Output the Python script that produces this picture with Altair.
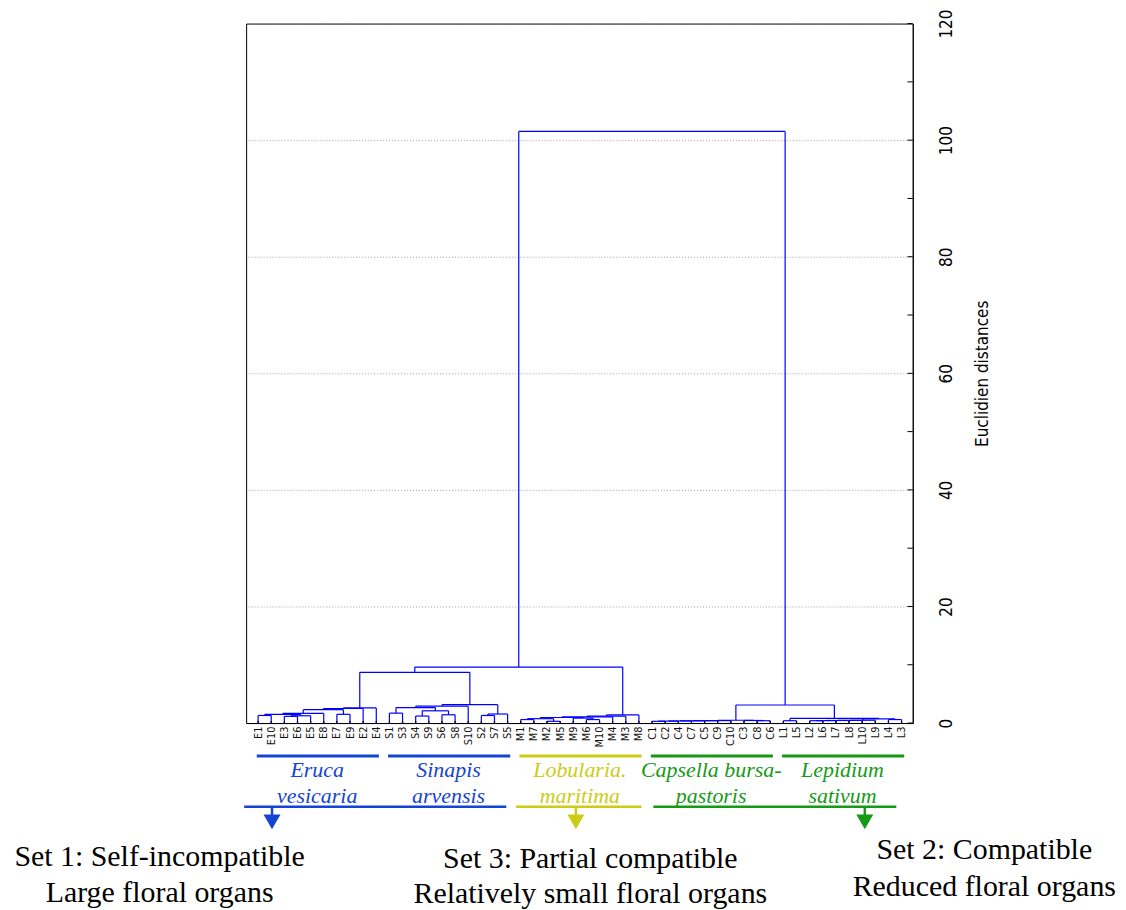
import altair as alt
import pandas as pd

# ---------------- data ----------------
leaves = ["E1", "E10", "E3", "E6", "E5", "E8", "E7", "E9", "E2", "E4",
          "S1", "S3", "S4", "S9", "S6", "S8", "S10", "S2", "S7", "S5",
          "M1", "M7", "M2", "M5", "M9", "M6", "M10", "M4", "M3", "M8",
          "C1", "C2", "C4", "C7", "C5", "C9", "C10", "C3", "C8", "C6",
          "L1", "L5", "L2", "L6", "L7", "L8", "L10", "L9", "L4", "L3"]

merge_id = ["e1", "e2", "e3", "e4", "e5", "e6", "e7", "e8", "e9",
            "s1", "s2", "s3", "s4", "s5", "s6", "s7", "s8", "s9", "es",
            "m1", "m2", "m3", "m4", "m5", "m6", "m7", "m8", "m9", "esm",
            "c1", "c2", "c3", "c4", "c5", "c6", "c7", "c8", "c9",
            "l1", "l2", "l3", "l4", "l5", "l6", "l7", "l8", "l9", "cl", "root"]
merge_left = ["E1", "E3", "e2", "e1", "e4", "E7", "e5", "e7", "e8",
              "S1", "S4", "S6", "s2", "s1", "s5", "S2", "s7", "s6", "e9",
              "M1", "M2", "m1", "M6", "M9", "m3", "m6", "m7", "m8", "es",
              "C1", "c1", "c2", "c3", "c4", "c5", "C8", "C3", "c6",
              "L1", "L2", "l2", "l3", "l4", "l5", "L4", "l6", "l1", "c9", "esm"]
merge_right = ["E10", "E6", "E5", "e3", "E8", "E9", "e6", "E2", "E4",
               "S3", "S9", "S8", "s3", "s4", "S10", "S7", "S5", "s8", "s9",
               "M7", "M5", "m2", "M10", "m4", "m5", "M4", "M3", "M8", "m9",
               "C2", "C4", "C7", "C5", "C9", "C10", "C6", "c7", "c8",
               "L5", "L6", "L7", "L8", "L10", "L9", "L3", "l7", "l8", "l9", "cl"]
merge_height = [1.30, 1.15, 1.25, 1.48, 1.65, 1.50, 2.30, 2.50, 2.60,
                1.70, 1.20, 1.42, 2.10, 2.65, 2.90, 1.30, 1.55, 3.15, 8.70,
                0.60, 0.30, 0.75, 0.60, 0.85, 0.95, 1.05, 1.20, 1.40, 9.60,
                0.30, 0.33, 0.36, 0.38, 0.40, 0.42, 0.40, 0.44, 0.48,
                0.40, 0.40, 0.42, 0.44, 0.46, 0.48, 0.60, 0.70, 0.80, 3.10, 101.5]

species_line1 = ["Eruca", "Sinapis", "Lobularia.", "Capsella bursa-", "Lepidium"]
species_line2 = ["vesicaria", "arvensis", "maritima", "pastoris", "sativum"]
species_prefix = ["E", "S", "M", "C", "L"]
species_color = ["#1444d2", "#1444d2", "#cccc14", "#169a16", "#169a16"]

set_line1 = ["Set 1: Self-incompatible", "Set 3: Partial compatible", "Set 2: Compatible"]
set_line2 = ["Large floral organs", "Relatively small floral organs", "Reduced floral organs"]
set_color = ["#1444d2", "#cccc14", "#169a16"]

axis_ticks = [0, 20, 40, 60, 80, 100, 120]
minor_ticks = list(range(0, 121, 10))

# ---------------- layout (data units) ----------------
X_DOMAIN = [-0.91, 49.85]
Y_DOMAIN = [0, 120]
set_bar_start = [-1.06, 19.65, 30.1]
set_bar_end = [18.9, 29.2, 48.6]
set_arrow_x = [1.06, 24.2, 46.2]
set_text_x = [-7.5, 25.3, 55.3]
set_text_y1 = [-23.0, -23.4, -21.8]
set_text_y2 = [-29.2, -29.4, -28.1]
UPPER_BAR_Y = -5.64
LOWER_BAR_Y = -14.36
SPECIES_Y1 = -9.32
SPECIES_Y2 = -13.68

# ---------------- build dendrogram segments ----------------
pos = {n: float(i) for i, n in enumerate(leaves)}
hgt = {n: 0.0 for n in leaves}
segs = []
for mid, a, b, h in zip(merge_id, merge_left, merge_right, merge_height):
    xa, xb = pos[a], pos[b]
    segs.append(dict(x=xa, x2=xa, y=hgt[a], y2=h))
    segs.append(dict(x=xb, x2=xb, y=hgt[b], y2=h))
    segs.append(dict(x=xa, x2=xb, y=h, y2=h))
    pos[mid] = (xa + xb) / 2.0
    hgt[mid] = h
seg_df = pd.DataFrame(segs)

xs = alt.Scale(domain=X_DOMAIN, nice=False, zero=False)
ys = alt.Scale(domain=Y_DOMAIN, nice=False, zero=False)

NARROW = "Liberation Sans Narrow, Arial Narrow, DejaVu Sans Condensed, sans-serif"
SERIF = "Liberation Serif, Times New Roman, serif"

label_arr = "[" + ",".join("'" + n + "'" for n in leaves) + "]"

X_AXIS = alt.Axis(
    orient="bottom", values=list(range(len(leaves))), title=None,
    labelExpr=label_arr + "[round(datum.value)]",
    labelAngle=270, labelFont=NARROW, labelFontSize=11, labelColor="#111111",
    labelPadding=3, labelOverlap=False, labelFlush=False, labelBound=False,
    ticks=False, grid=False, domainColor="black", domainWidth=1)
Y_AXIS = alt.Axis(
    orient="right", values=axis_ticks, title="Euclidien distances",
    titleAngle=270, titleFont=NARROW, titleFontSize=17, titleFontWeight="normal",
    titleColor="black", titlePadding=37,
    labelAngle=270, labelFont=NARROW, labelFontSize=17, labelColor="black",
    labelPadding=26, ticks=False, domainColor="black",
    grid=True, gridDash=[1, 2], gridColor="#888888", gridWidth=0.8)


def X(field):
    return alt.X(field, scale=xs, axis=X_AXIS)


def Y(field):
    return alt.Y(field, scale=ys, axis=Y_AXIS)


dendro = alt.Chart(seg_df).mark_rule(color="#0000ff", strokeWidth=1.2).encode(
    x=X("x:Q"), x2="x2:Q", y=Y("y:Q"), y2="y2:Q",
)

# inward ticks on the right axis
tick_df = pd.DataFrame({"v": minor_ticks})
rticks = alt.Chart(tick_df).mark_rule(color="black", strokeWidth=1).encode(
    x=X("xa:Q"), x2="xb:Q", y=Y("v:Q"),
).transform_calculate(xa=str(X_DOMAIN[1]), xb=str(X_DOMAIN[1] - 0.4))

# small black leaf ticks at the baseline
leaf_df = pd.DataFrame({"i": list(range(len(leaves)))})
lticks = alt.Chart(leaf_df).mark_rule(color="black", strokeWidth=1.2).encode(
    x=X("i:Q"), y=Y("y0:Q"), y2="y1:Q",
).transform_calculate(y0="0", y1="0.35")

# species bars and labels
sp_rows = []
for l1, l2, pre, col in zip(species_line1, species_line2, species_prefix, species_color):
    idx = [i for i, n in enumerate(leaves) if n.startswith(pre)]
    sp_rows.append(dict(t1=l1, t2=l2, col=col, xs=min(idx) - 0.1, xe=max(idx) + 0.2,
                        xc=(min(idx) + max(idx)) / 2.0))
sp_df = pd.DataFrame(sp_rows)

sp_bar = alt.Chart(sp_df).mark_rule(strokeWidth=3).encode(
    x=X("xs:Q"), x2="xe:Q", y=Y("yb:Q"),
    color=alt.Color("col:N", scale=None),
).transform_calculate(yb=str(UPPER_BAR_Y))

sp_t1 = alt.Chart(sp_df).mark_text(font=SERIF, fontSize=22, fontStyle="italic",
                                   align="center", baseline="alphabetic").encode(
    x=X("xc:Q"), y=Y("yt:Q"), text="t1:N", color=alt.Color("col:N", scale=None),
).transform_calculate(yt=str(SPECIES_Y1))

sp_t2 = alt.Chart(sp_df).mark_text(font=SERIF, fontSize=22, fontStyle="italic",
                                   align="center", baseline="alphabetic").encode(
    x=X("xc:Q"), y=Y("yt:Q"), text="t2:N", color=alt.Color("col:N", scale=None),
).transform_calculate(yt=str(SPECIES_Y2))

# set bars, arrows and labels
set_df = pd.DataFrame(dict(t1=set_line1, t2=set_line2, col=set_color,
                           xs=set_bar_start, xe=set_bar_end, xa=set_arrow_x,
                           xt=set_text_x, y1=set_text_y1, y2=set_text_y2))

set_bar = alt.Chart(set_df).mark_rule(strokeWidth=2.5).encode(
    x=X("xs:Q"), x2="xe:Q", y=Y("yb:Q"),
    color=alt.Color("col:N", scale=None),
).transform_calculate(yb=str(LOWER_BAR_Y))

shaft = alt.Chart(set_df).mark_rule(strokeWidth=2.5).encode(
    x=X("xa:Q"), y=Y("ya:Q"), y2="yb:Q",
    color=alt.Color("col:N", scale=None),
).transform_calculate(ya=str(LOWER_BAR_Y), yb=str(LOWER_BAR_Y - 1.5))

head = alt.Chart(set_df).mark_point(shape="triangle-down", filled=True, size=290, opacity=1).encode(
    x=X("xa:Q"), y=Y("yh:Q"),
    color=alt.Color("col:N", scale=None),
).transform_calculate(yh=str(LOWER_BAR_Y - 2.6))

set_t1 = alt.Chart(set_df).mark_text(font=SERIF, fontSize=30, color="black",
                                     align="center", baseline="middle").encode(
    x=X("xt:Q"), y=Y("y1:Q"), text="t1:N",
)
set_t2 = alt.Chart(set_df).mark_text(font=SERIF, fontSize=30, color="black",
                                     align="center", baseline="middle").encode(
    x=X("xt:Q"), y=Y("y2:Q"), text="t2:N",
)

chart = alt.layer(
    dendro, rticks, lticks, sp_bar, sp_t1, sp_t2, set_bar, shaft, head, set_t1, set_t2
).properties(
    width=669, height=702,
    padding={"left": 239, "top": 14, "right": 206, "bottom": 186},
    autosize=alt.AutoSizeParams(type="none"),
).configure_view(stroke="black", strokeWidth=1)

chart.save("out.html", embed_options={"renderer": "svg", "actions": False})
